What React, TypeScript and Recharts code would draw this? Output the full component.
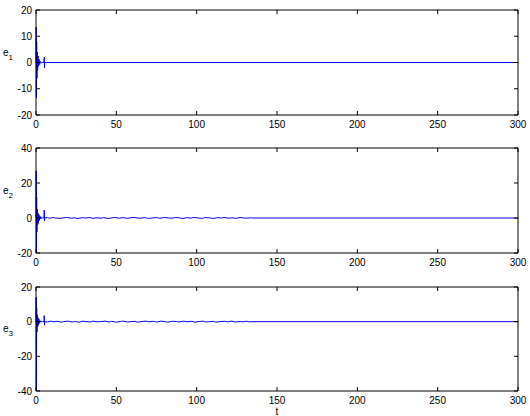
import { LineChart, Line, XAxis, YAxis } from "recharts";

// time stamps and values for each error signal
const e1T = [0, 0.1, 0.25, 0.4, 0.6, 0.8, 1.0, 1.3, 1.6, 1.9, 2.3, 2.7, 3.2, 4.0, 5.0, 5.1, 5.25, 5.4, 6.5, 300];
const e1V = [0, 13.5, -13.5, 8, -6, 4, -3, 2.5, -1.5, 1.2, -0.8, 0.4, -0.2, 0, 0, 2, -2, 0, 0, 0];

const e2T = [
  0, 0.12, 0.25, 0.4, 0.6, 0.8, 1.0, 1.2, 1.5, 1.8, 2.1, 2.5, 3.0, 3.5, 4.2, 5.0, 5.1, 5.25, 5.4,
  7, 8.5, 11, 12, 15, 17.5, 19, 22, 24, 25.5, 29, 31, 33.5, 35, 38, 40.5, 42, 45, 47.5, 49,
  52, 54, 57, 58.5, 61, 64, 65.5, 68, 70, 73, 75.5, 77, 80, 82.5, 84, 87, 89.5, 91, 94, 96.5,
  98, 101, 103.5, 105, 108, 110, 113, 115.5, 117, 120, 122, 125, 127, 129.5, 131, 133.5, 135, 300,
];
const e2V = [
  0, 27, -24, 12, -8, 5, -4, 3, -3, 2, -1.5, 1, -0.6, 0.4, 0, 0, 4.5, -1.7, 0,
  0.2, -0.1, 0.3, 0, -0.2, 0.1, 0.3, -0.1, 0.1, -0.3, 0.2, 0, 0.3, -0.2, 0.1, -0.1, 0.2, -0.3, 0.1, 0.3,
  -0.1, 0.2, -0.2, 0.1, 0.3, -0.1, 0, 0.2, -0.3, 0.1, 0.2, -0.2, 0.3, 0, -0.1, 0.2, 0.1, -0.3, 0.2, -0.1,
  0.3, 0, -0.2, 0.2, 0.1, -0.3, 0.2, 0, 0.3, -0.1, 0.1, -0.2, 0.3, 0, -0.1, 0.1, 0, 0,
];

const e3T = [
  0, 0.12, 0.25, 0.4, 0.6, 0.8, 1.0, 1.2, 1.5, 1.8, 2.1, 2.5, 3.0, 3.5, 4.2, 5.0, 5.1, 5.25, 5.4,
  7, 9.5, 11, 13.5, 16, 17, 20, 22.5, 24, 27, 28.5, 31, 34, 35.5, 38, 40, 43, 45.5, 47, 50,
  52.5, 54, 57, 59, 61.5, 63, 66, 68.5, 70, 73, 75, 78, 80.5, 82, 85, 87.5, 89, 92, 94, 97,
  99, 101.5, 104, 105.5, 108, 110.5, 112, 115, 117.5, 119, 122, 124, 127, 128.5, 131, 133, 135, 300,
];
const e3V = [
  0, 14, -42, 8, -6, 4, -3, 2.5, -2, 1.5, -1, 0.6, -0.3, 0.2, 0, 0, 3.5, -2, 0,
  -0.2, 0.3, -0.1, 0.2, -0.3, 0, 0.3, -0.2, 0.1, -0.3, 0.2, 0.1, -0.2, 0.3, -0.1, 0, 0.3, -0.2, 0.2, -0.3,
  0.1, 0.3, -0.2, 0, 0.2, -0.3, 0.1, 0.3, -0.1, 0.2, -0.2, 0.3, 0, -0.3, 0.2, 0.1, -0.2, 0.3, -0.1, 0.2,
  -0.3, 0.1, 0.3, -0.2, 0, 0.2, -0.3, 0.1, 0.2, -0.1, 0.3, -0.2, 0.1, -0.1, 0.2, -0.1, 0, 0,
];

const xTicks = [0, 50, 100, 150, 200, 250, 300];
const e1Ticks = [-20, -10, 0, 10, 20];
const e2Ticks = [-20, 0, 20, 40];
const e3Ticks = [-40, -20, 0, 20];

const ff = "Liberation Sans, Arial, sans-serif";
const font = { fontFamily: ff, fontSize: 10, fill: "#000" };

function zip(t: number[], v: number[]) {
  return t.map((x, i) => ({ t: x, e: v[i] }));
}

function Panel({
  top,
  height,
  data,
  yTicks,
  label,
}: {
  top: number;
  height: number;
  data: { t: number; e: number }[];
  yTicks: number[];
  label: string;
}) {
  const dom: [number, number] = [yTicks[0], yTicks[yTicks.length - 1]];
  const plotH = height - 10 - 25;
  return (
    <div style={{ position: "absolute", left: 0, top }}>
      <LineChart width={530} height={height} data={data} margin={{ top: 9, right: 11, left: 0, bottom: 0 }}>
        <XAxis
          dataKey="t"
          type="number"
          domain={[0, 300]}
          ticks={xTicks}
          height={25}
          tick={font}
          tickSize={-4}
          tickMargin={10}
          stroke="#000"
          interval={0}
        />
        <XAxis
          xAxisId="top"
          orientation="top"
          dataKey="t"
          type="number"
          domain={[0, 300]}
          ticks={xTicks}
          height={1}
          tickFormatter={() => ""}
          tickSize={-4}
          stroke="#000"
          interval={0}
        />
        <YAxis
          type="number"
          domain={dom}
          ticks={yTicks}
          width={36}
          allowDataOverflow
          tick={font}
          tickSize={-4}
          tickMargin={8}
          stroke="#000"
          interval={0}
        />
        <YAxis
          yAxisId="r"
          orientation="right"
          type="number"
          domain={dom}
          ticks={yTicks}
          width={1}
          allowDataOverflow
          tickFormatter={() => ""}
          tickSize={-4}
          stroke="#000"
          interval={0}
        />
        <Line
          dataKey="e"
          stroke="#0000ff"
          strokeWidth={1}
          dot={false}
          type="linear"
          isAnimationActive={false}
        />
      </LineChart>
      <svg width={20} height={30} style={{ position: "absolute", left: 0, top: 10 + plotH / 2 - 24 }}>
        <text x={3} y={17} fontFamily={ff} fontSize={10} fill="#000">
          e
          <tspan fontSize={8} dy={4}>
            {label}
          </tspan>
        </text>
      </svg>
    </div>
  );
}

export default function App() {
  return (
    <div style={{ position: "absolute", left: 0, top: 0, width: 530, height: 416, background: "#fff" }}>
      <Panel top={0} height={140} data={zip(e1T, e1V)} yTicks={e1Ticks} label="1" />
      <Panel top={138} height={140} data={zip(e2T, e2V)} yTicks={e2Ticks} label="2" />
      <Panel top={277} height={139} data={zip(e3T, e3V)} yTicks={e3Ticks} label="3" />
      <svg width={530} height={416} style={{ position: "absolute", left: 0, top: 0, pointerEvents: "none" }}>
        <text x={277} y={415} textAnchor="middle" fontFamily={ff} fontSize={10}>
          t
        </text>
      </svg>
    </div>
  );
}
